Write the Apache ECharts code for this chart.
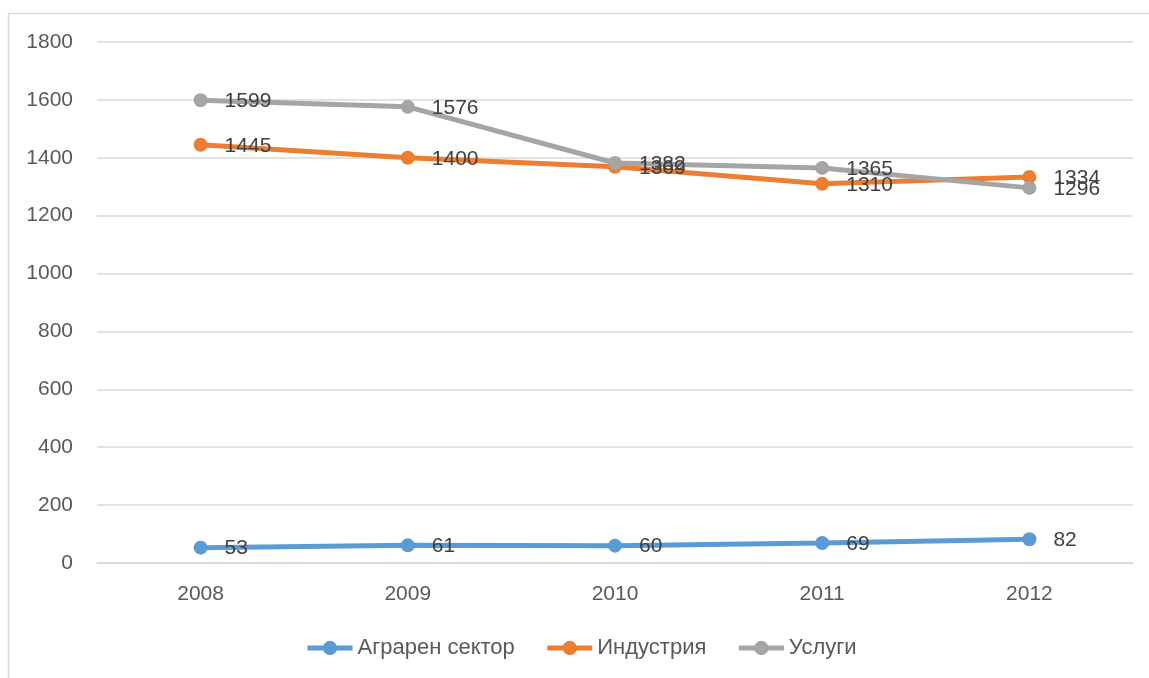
<!DOCTYPE html>
<html><head><meta charset="utf-8">
<script src="https://cdn.jsdelivr.net/npm/echarts@6/dist/echarts.min.js"></script>
<style>html,body{margin:0;padding:0;background:#fff}#c{width:1149px;height:678px}</style>
</head><body><div id="c"></div>
<script>
const categories = ['2008','2009','2010','2011','2012'];
const agrarian = [53, 61, 60, 69, 82];
const industry = [1445, 1400, 1369, 1310, 1334];
const services = [1599, 1576, 1382, 1365, 1296];
const seriesNames = ['Аграрен сектор', 'Индустрия', 'Услуги'];
const yTicks = {min: 0, max: 1800, interval: 200};

const FONT = '"Liberation Sans", "Noto Sans", sans-serif';
function mk(name, data, color) {
  return {
    name, type: 'line', data,
    lineStyle: {width: 5, color}, itemStyle: {color},
    symbol: 'circle', symbolSize: 14, z: 3,
    label: {show: true, position: 'right', distance: 17, offset: [0, 1], color: '#404040', fontSize: 21, fontFamily: FONT}
  };
}
const chart = echarts.init(document.getElementById('c'));
chart.setOption({
  animation: false,
  textStyle: {fontFamily: FONT},
  graphic: [{type: 'rect', shape: {x: 8.5, y: 13.5, width: 1200, height: 700}, style: {fill: 'none', stroke: '#d9d9d9', lineWidth: 1.5}, z: -1, silent: true}],
  grid: {left: 97, right: 16, top: 42, bottom: 115},
  legend: {top: 632, left: 300, itemWidth: 45, itemHeight: 18, itemGap: 30,
    lineStyle: {width: 5}, itemStyle: {borderWidth: 0},
    textStyle: {fontSize: 22, color: '#595959', fontFamily: FONT},
    data: seriesNames},
  xAxis: {type: 'category', data: categories, boundaryGap: true,
    axisLine: {lineStyle: {color: '#d9d9d9', width: 1.5}}, axisTick: {show: false},
    axisLabel: {color: '#595959', fontSize: 21, margin: 21, fontFamily: FONT}},
  yAxis: {type: 'value', min: yTicks.min, max: yTicks.max, interval: yTicks.interval,
    axisLine: {show: false}, axisTick: {show: false},
    splitLine: {lineStyle: {color: '#d9d9d9', width: 1.5}},
    axisLabel: {color: '#595959', fontSize: 21, margin: 24, fontFamily: FONT, formatter: v => String(v)}},
  series: [mk(seriesNames[0], agrarian, '#5B9BD5'), mk(seriesNames[1], industry, '#ED7D31'), mk(seriesNames[2], services, '#A5A5A5')]
});
</script></body></html>
